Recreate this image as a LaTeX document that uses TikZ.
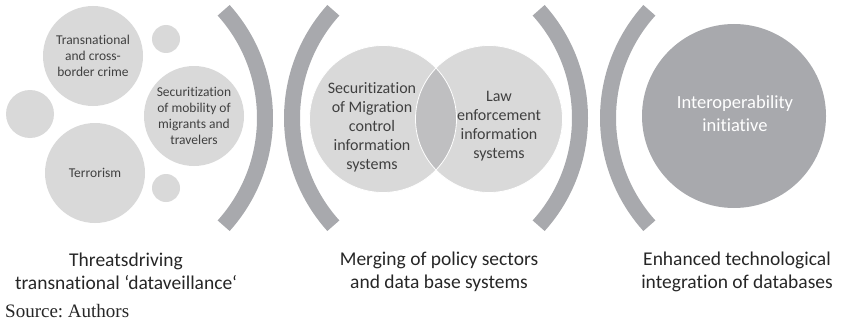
\documentclass[tikz,border=0pt]{standalone}
\usepackage{fontspec}
\setmainfont{Carlito}[Ligatures=NoCommon]
\newfontfamily\srcfont{Liberation Serif}
\frenchspacing
\definecolor{arcgray}{RGB}{168,169,173}
\definecolor{lightc}{RGB}{217,217,217}
\definecolor{lensc}{RGB}{191,191,193}
\definecolor{ctext}{RGB}{64,64,64}
\definecolor{ltext}{RGB}{38,38,38}
\tikzset{
  bub/.style={circle, fill=lightc, inner sep=0pt, text=ctext, align=center},
  smalltxt/.style={font=\fontsize{13.5}{16}\selectfont},
  midtxt/.style={text=ctext, align=center, inner sep=0pt, font=\fontsize{16}{19}\selectfont},
  bracket/.style={draw=arcgray, line width=16pt, line cap=butt},
  caption/.style={text=ltext, align=center, inner sep=0pt, font=\fontsize{19.5}{23}\selectfont}
}
\begin{document}
\begin{tikzpicture}[x=1pt,y=1pt]
\useasboundingbox (0,0) rectangle (842,322);
% left group
\node[bub, minimum size=48pt] (sl) at (30,208) {};
\node[bub, minimum size=100pt, smalltxt] (trans) at (93,266) {Transnational\\and cross-\\border crime};
\node[bub, minimum size=28pt] (st) at (166,283) {};
\node[bub, minimum size=100pt, smalltxt] (mob) at (194,206) {Securitization\\of mobility of\\migrants and\\travelers};
\node[bub, minimum size=100pt, smalltxt] (terr) at (95,149) {Terrorism};
\node[bub, minimum size=28pt] (sb) at (166,134) {};
% middle group
\node[circle, fill=lightc, minimum size=147pt, inner sep=0pt] (mig) at (383,203) {};
\node[circle, fill=lightc, minimum size=147pt, inner sep=0pt] (law) at (489,203) {};
\begin{scope}
  \clip (mig.center) circle (73.5);
  \fill[lensc] (law.center) circle (73.5);
\end{scope}
\draw[white, line width=0.8pt] (mig.center) circle (73.5);
\draw[white, line width=0.8pt] (law.center) circle (73.5);
\node[midtxt] (migt) at (372,195) {Securitization\\of Migration\\control\\information\\systems};
\node[midtxt] (lawt) at (499,196) {Law\\enforcement\\information\\systems};
% right circle
\node[circle, fill=arcgray, minimum size=184pt, inner sep=0pt] (inter) at (734,206) {};
\node[text=white, align=center, inner sep=0pt, font=\fontsize{18.5}{23}\selectfont] (intert) at (735,208.5) {Interoperability\\initiative};
% brackets
\coordinate (c1) at (104,204);
\coordinate (c2) at (453,204);
\coordinate (c3) at (419,204);
\coordinate (c4) at (769,204);
\draw[bracket] (c1) ++(-42:161) arc[start angle=-42, end angle=42, radius=161];
\draw[bracket] (c2) ++(138:161) arc[start angle=138, end angle=222, radius=161];
\draw[bracket] (c3) ++(-42:161) arc[start angle=-42, end angle=42, radius=161];
\draw[bracket] (c4) ++(138:161) arc[start angle=138, end angle=222, radius=161];
% captions
\node[caption] (cap1) at (126,50.5) {Threatsdriving\\transnational ‘dataveillance‘};
\node[caption] (cap2) at (439,50.5) {Merging of policy sectors\\and data base systems};
\node[caption] (cap3) at (737,50.5) {Enhanced technological\\integration of databases};
\node[anchor=base west, inner sep=0pt, text=ltext, font=\srcfont\fontsize{19}{21}\selectfont] (src) at (5,5) {Source: Authors};
\end{tikzpicture}
\end{document}
